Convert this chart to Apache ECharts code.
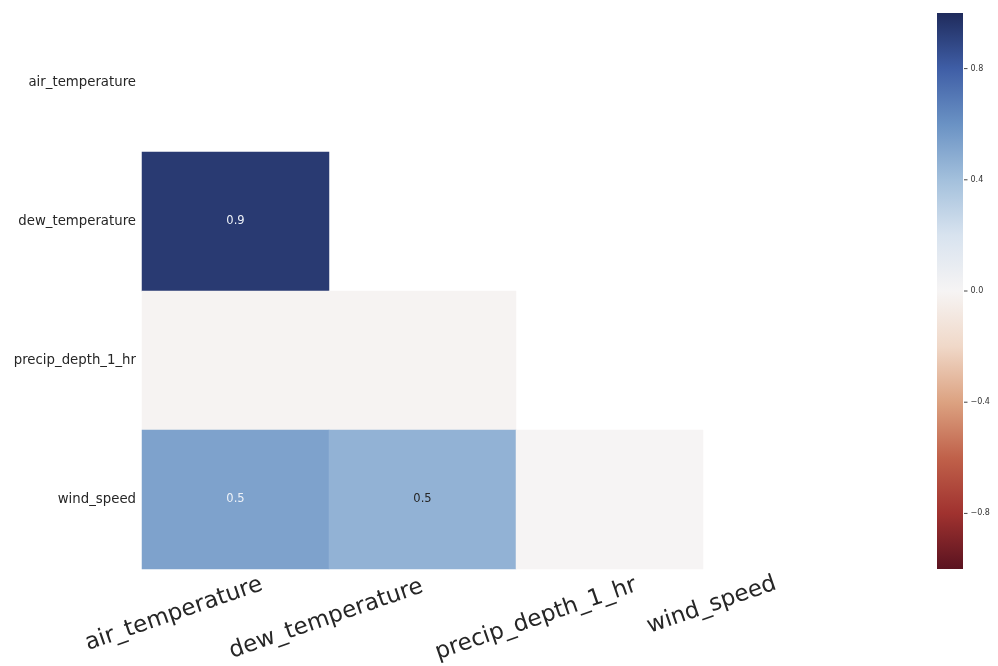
<!DOCTYPE html>
<html>
<head>
<meta charset="utf-8">
<script src="https://cdn.jsdelivr.net/npm/echarts@6/dist/echarts.min.js"></script>
<style>
  html, body { margin: 0; padding: 0; background: #ffffff; }
  #chart { width: 998px; height: 666px; }
</style>
</head>
<body>
<div id="chart"></div>
<script>
// Nullity correlation between weather columns (lower triangle only)
const columns = ['air_temperature', 'dew_temperature', 'precip_depth_1_hr', 'wind_speed'];
const dewCorr = [0.94];
const precipCorr = [-0.01, -0.01];
const windCorr = [0.53, 0.46, 0.0];
const lowerRows = [[], dewCorr, precipCorr, windCorr];

// Colorbar ticks
const barTicks = [-0.8, -0.4, 0.0, 0.4, 0.8];

// Diverging ramp from -1 (dark red) to +1 (dark blue)
const ramp = ['#5a1320', '#a0322f', '#c0614a', '#dca281', '#f0d8c8', '#f6f4f4',
              '#d8e3ef', '#a3c0dc', '#6a92c4', '#3f5ea6', '#1f2b5c'];

// Slanted column names: distance below the cells and sideways shift along the text
const xLabelMargin = [24, 17, 25, 7];
const xLabelShift = [28, 0, 28, -22];

const cells = [];
lowerRows.forEach((row, r) => {
  row.forEach((v, c) => {
    const hide = Math.abs(v) < 0.05;
    cells.push({
      value: [c, r, v],
      label: {
        show: !hide,
        color: Math.abs(v) >= 0.5 ? '#eef2f8' : '#262626'
      }
    });
  });
});

// Colorbar labels carry their own short tick dash in front of the number
const fmtTick = v => '{t|}{n|' + (v < 0 ? '\u2212' + Math.abs(v).toFixed(1) : v.toFixed(1)) + '}';

// Colorbar box; its tick axis sits on a thin grid along the bar's right edge
const bar = { left: 937, top: 13, width: 26, height: 556 };

// One bottom axis per column name so each name can sit at its own spot
const nameAxes = columns.map((_, k) => ({
  type: 'category', gridIndex: 0, data: columns, position: 'bottom',
  axisLine: { show: false }, axisTick: { show: false }, splitLine: { show: false },
  axisLabel: {
    rotate: 19, fontSize: 23, color: '#262626', margin: xLabelMargin[k],
    fontFamily: 'DejaVu Sans', interval: 0,
    padding: [0, -xLabelShift[k], 0, 0],
    formatter: (v, i) => (i === k ? v : '')
  }
}));

const chart = echarts.init(document.getElementById('chart'), null, { renderer: 'canvas' });
chart.setOption({
  animation: false,
  backgroundColor: '#ffffff',
  grid: [
    { left: 142, top: 13, width: 748, height: 556, containLabel: false, outerBoundsMode: 'none' },
    { left: bar.left + bar.width, top: bar.top, width: 1, height: bar.height, containLabel: false, outerBoundsMode: 'none' }
  ],
  xAxis: nameAxes.concat([
    { type: 'value', gridIndex: 1, show: false, min: 0, max: 1 }
  ]),
  yAxis: [
    {
      type: 'category', gridIndex: 0, data: columns, inverse: true,
      axisLine: { show: false }, axisTick: { show: false }, splitLine: { show: false },
      axisLabel: { fontSize: 13.3, color: '#262626', margin: 6, fontFamily: 'DejaVu Sans' }
    },
    {
      type: 'value', gridIndex: 1, position: 'right', min: -1, max: 1,
      axisLine: { show: false }, splitLine: { show: false }, axisTick: { show: false },
      axisLabel: {
        customValues: barTicks, formatter: fmtTick, margin: 0,
        rich: {
          t: { width: 3.5, height: 1, backgroundColor: '#444' },
          n: { fontSize: 8, color: '#333', fontFamily: 'DejaVu Sans', padding: [0, 0, 0, 3] }
        }
      }
    }
  ],
  visualMap: {
    type: 'continuous', min: -1, max: 1, show: false,
    seriesIndex: 0, inRange: { color: ramp }
  },
  graphic: [
    {
      type: 'rect', left: bar.left, top: bar.top, silent: true, z: -1,
      shape: { width: bar.width, height: bar.height },
      style: {
        fill: new echarts.graphic.LinearGradient(0, 1, 0, 0,
          ramp.map((c, i) => ({ offset: i / (ramp.length - 1), color: c })))
      }
    }
  ],
  series: [
    {
      type: 'heatmap', xAxisIndex: 0, yAxisIndex: 0, data: cells,
      label: {
        show: true, fontSize: 11.5, fontFamily: 'DejaVu Sans',
        formatter: p => p.value[2].toFixed(1)
      },
      itemStyle: { borderWidth: 0 },
      emphasis: { disabled: true }
    }
  ]
});
</script>
</body>
</html>
